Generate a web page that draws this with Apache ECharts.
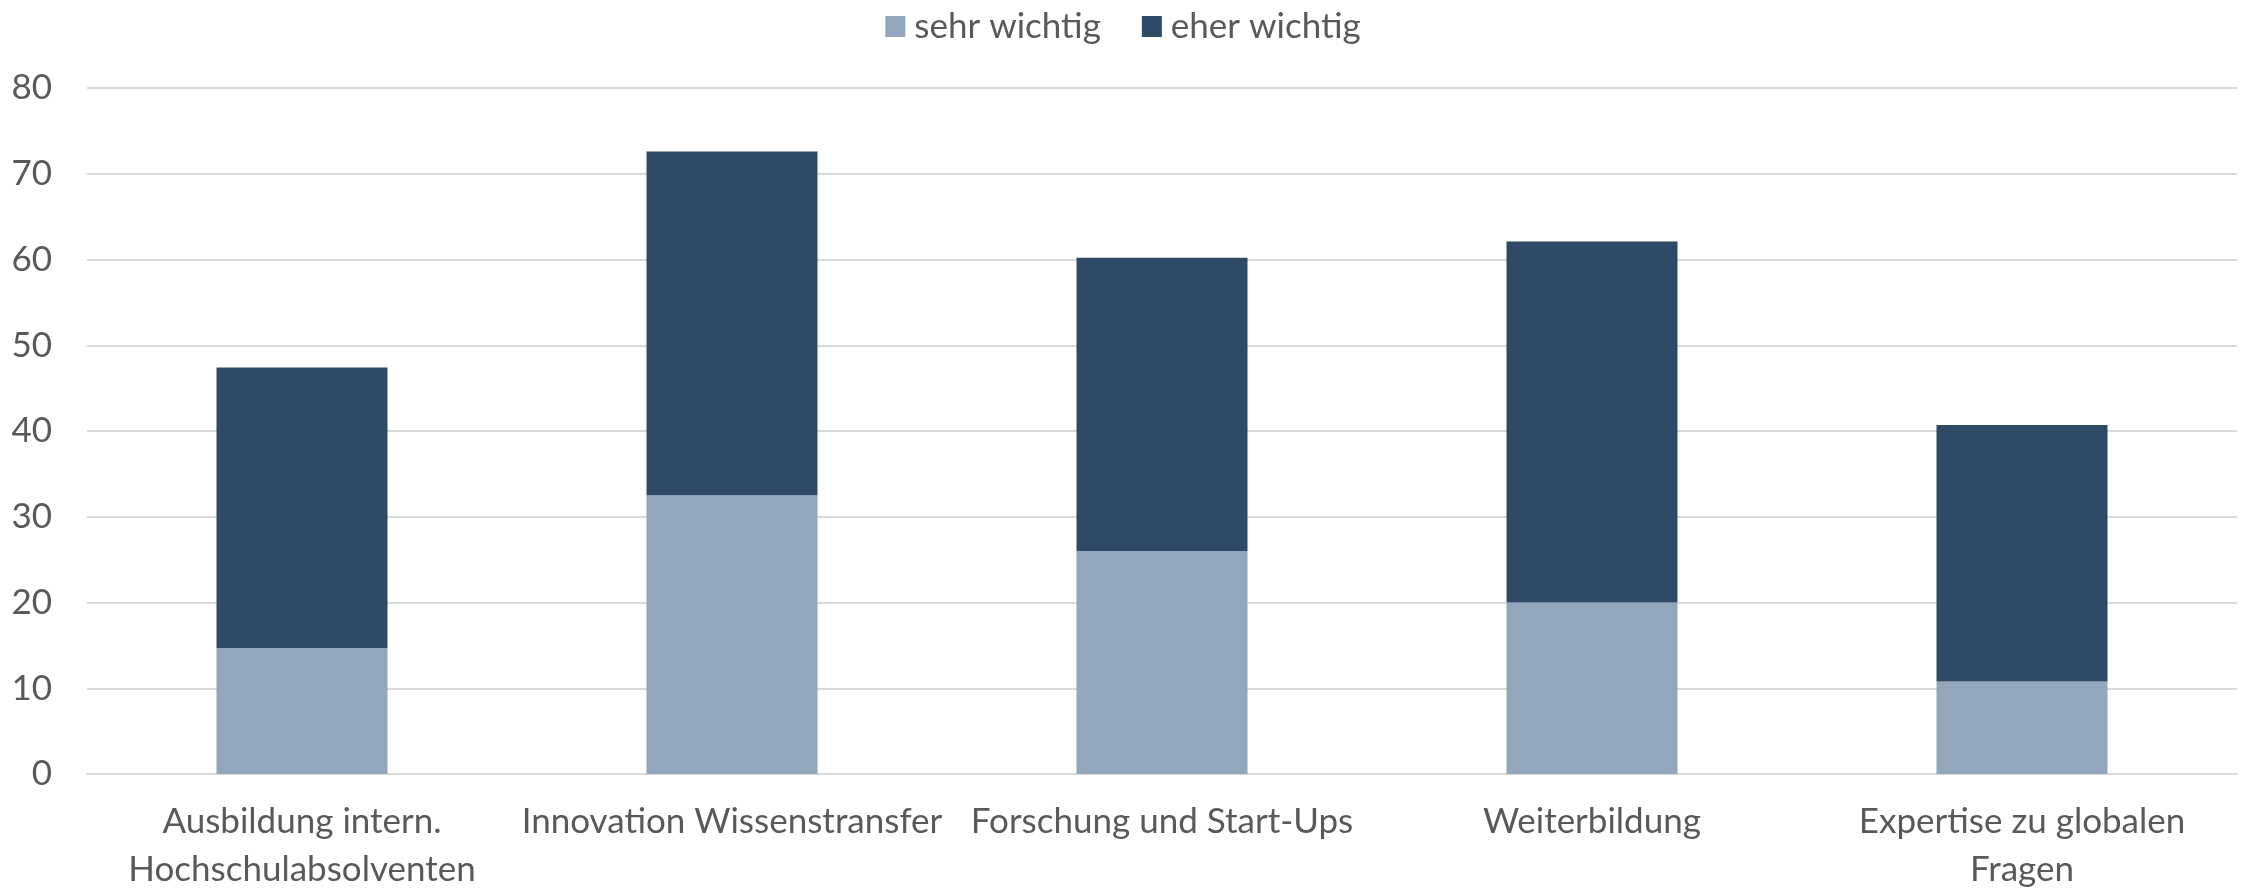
<!DOCTYPE html>
<html>
<head>
<meta charset="utf-8">
<script src="https://cdn.jsdelivr.net/npm/echarts@6/dist/echarts.min.js"></script>
<style>
  html, body { margin: 0; padding: 0; background: #fff; overflow: hidden; }
  #chart { width: 2246px; height: 894px; }
</style>
</head>
<body>
<div id="chart"></div>
<script>
var categories = ['Ausbildung intern.\nHochschulabsolventen', 'Innovation Wissenstransfer', 'Forschung und Start-Ups', 'Weiterbildung', 'Expertise zu globalen\nFragen'];
var seriesNames = ['sehr wichtig', 'eher wichtig'];
var sehrWichtig = [14.7, 32.5, 26.0, 20.0, 10.8];
var eherWichtig = [32.7, 40.1, 34.2, 42.1, 29.9];

var font = 'Lato, "Open Sans", sans-serif';
var chart = echarts.init(document.getElementById('chart'));
chart.setOption({
    animation: false,
    color: ['#93A7BC', '#2E4A66'],
    textStyle: { fontFamily: font, color: '#595959' },
    legend: {
        top: 4,
        left: 'center',
        itemWidth: 20,
        itemHeight: 21,
        itemGap: 41,
        icon: 'rect',
        data: seriesNames,
        textStyle: { fontSize: 35, color: '#595959', fontFamily: font, padding: [0, 0, 0, 4] }
    },
    grid: { left: 87, width: 2150, top: 88, height: 695, containLabel: false },
    xAxis: {
        type: 'category',
        data: categories,
        axisLine: { show: true, lineStyle: { color: '#d9d9d9', width: 2 } },
        axisTick: { show: false },
        axisLabel: { fontSize: 35, color: '#595959', margin: 24, lineHeight: 48, interval: 0, fontFamily: font }
    },
    yAxis: {
        type: 'value',
        min: 0,
        max: 80,
        interval: 10,
        axisLine: { show: false },
        axisTick: { show: false },
        splitLine: { lineStyle: { color: '#d9d9d9', width: 2 } },
        axisLabel: { fontSize: 35, color: '#595959', margin: 35, fontFamily: font }
    },
    series: [
        { name: seriesNames[0], type: 'bar', stack: 'total', barWidth: 171, data: sehrWichtig },
        { name: seriesNames[1], type: 'bar', stack: 'total', barWidth: 171, data: eherWichtig }
    ]
});
</script>
</body>
</html>
